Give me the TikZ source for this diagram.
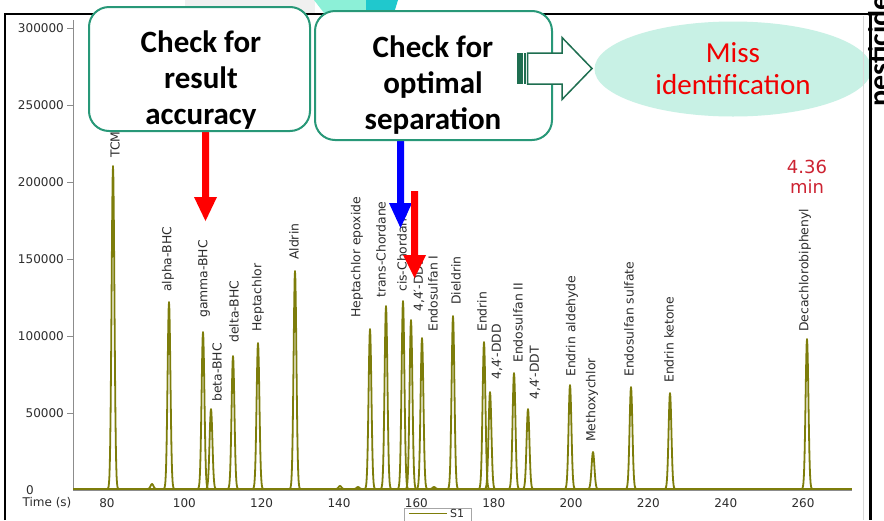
\documentclass[tikz,border=0pt]{standalone}
\usepackage{fontspec}
\usetikzlibrary{shapes.geometric}
\newfontfamily\chartfont{DejaVu Sans}
\newfontfamily\calfont{Carlito}
\definecolor{olivepk}{RGB}{125,125,10}
\definecolor{boxteal}{RGB}{40,152,120}
\definecolor{arrgreen}{RGB}{30,110,80}
\definecolor{mintfill}{RGB}{200,241,229}
\definecolor{missred}{RGB}{240,0,0}
\definecolor{timered}{RGB}{205,35,50}
\definecolor{axisgray}{RGB}{140,140,140}
\definecolor{txtgray}{RGB}{45,45,45}
\definecolor{decomint}{RGB}{140,240,215}
\definecolor{decoteal}{RGB}{32,200,205}
\begin{document}
\begin{tikzpicture}[x=1pt,y=-1pt,
  peak/.style={olivepk, line width=1.8pt, line join=round},
  plbl/.style={font=\chartfont\fontsize{12.4}{14}\selectfont, text=txtgray, inner sep=0pt, rotate=90, anchor=west},
  tlbl/.style={font=\chartfont\fontsize{12}{14}\selectfont, text=txtgray, inner sep=0pt},
  checkbox/.style={draw=boxteal, line width=2pt, fill=white, rounded corners=20pt, inner sep=0pt},
  boxtext/.style={align=center, font=\calfont\bfseries\fontsize{31}{36}\selectfont, inner sep=0pt}]
\useasboundingbox (0,0) rectangle (884,520);
\clip (0,0) rectangle (884,520);
\fill[white] (0,0) rectangle (884,520);
% top decorations
\fill[black!6] (185,0) rectangle (315,13);
\fill[decomint] (314,0) -- (366,0) -- (366,13) -- (324,13) -- cycle;
\fill[decoteal] (366,0) -- (398,0) -- (394,13) -- (366,13) -- cycle;
% ellipse
\node[ellipse, fill=mintfill, minimum width=277pt, minimum height=95pt, inner sep=0pt,
  align=center, text=missred, font=\calfont\fontsize{29}{32}\selectfont] (miss) at (733,69) {Miss\\identification};
% frame
\draw[black, line width=2pt] (5,520) -- (5,14) -- (871,14);
\draw[black!15, line width=0.8pt] (863,16) -- (863,520);
\draw[black, line width=3pt] (870,14) -- (870,520);
% axes
\draw[axisgray, line width=0.8pt] (73,20) -- (73,490) -- (852,490);
\foreach \v/\yy in {300000/28,250000/105,200000/182,150000/259,100000/336,50000/413}{
  \draw[axisgray, line width=0.8pt] (67,\yy) -- (73,\yy);
  \node[tlbl, anchor=east] (yt\v) at (64,\yy) {\v};
}
\node[tlbl] (yt0) at (30,490) {0};
\node[tlbl] (tlab) at (47,503) {Time (s)};
\foreach \t in {80,100,...,260}{
  \node[tlbl] (xt\t) at ({107+(\t-80)*3.867},503) {\t};
}
% legend
\node[draw=black!35, line width=0.6pt, minimum width=67pt, minimum height=16pt, anchor=north west, inner sep=0pt] (leg) at (404,508) {};
\node[tlbl, anchor=west, font=\chartfont\fontsize{11}{12}\selectfont] (legs1) at (450,513.5) {S1};
\draw[olivepk, line width=1pt] (409,513.5) -- ([xshift=-3pt]legs1.west);
% baseline signal
\draw[olivepk, line width=1.1pt] (73,489) -- (852,489);
\foreach \px/\pt in {113/166,169/302,203/332,211/409,233/356,258/343,295/271,370/329,386/306,403/301,411/320,422/338,453/316,484/342,490/392,514/373,528/409,570/385,593/452,631/387,670/393,807/339,152/484,340/486,358/487,434/487}{
  \draw[peak] plot[domain=\px-6:\px+6, samples=31] (\x,{489-(489-\pt)*exp(-((\x-\px)^2)/4)});
}
% peak labels
\foreach \lx/\ly/\txt [count=\i] in {115/158/TCMX, 168/292/alpha-BHC, 204/318/gamma-BHC, 217/402/beta-BHC,
  234/343/delta-BHC, 258/332/Heptachlor, 294/260/Aldrin, 357/318/Heptachlor epoxide, 381/298/trans-Chordane,
  402/292/cis-Chordane, 419/312/{4,4′-DDE}, 433/332/Endosulfan I, 456/305/Dieldrin, 482/332/Endrin,
  497/380/{4,4′-DDD}, 518/363/Endosulfan II, 535/400/{4,4′-DDT}, 572/377/Endrin aldehyde, 592/442/Methoxychlor,
  629/377/Endosulfan sulfate, 669/383/Endrin ketone, 805/332/Decachlorobiphenyl}{
  \node[plbl] (lab\i) at (\lx,\ly) {\txt};
}
\node[text=timered, font=\chartfont\fontsize{18}{20}\selectfont, align=center, inner sep=0pt] (rt) at (807,177) {4.36\\min};
% arrows
\coordinate (tipA) at (205.5,221);
\coordinate (tipB) at (400.5,228);
\coordinate (tipC) at (414.5,278);
\fill[red] (202,125) -- (209,125) -- (209,197) -- (217,197) -- (tipA) -- (194,197) -- (202,197) -- cycle;
\fill[blue] (397,135) -- (404,135) -- (404,203) -- (412,203) -- (tipB) -- (389,203) -- (397,203) -- cycle;
\fill[red] (411,191) -- (418,191) -- (418,255) -- (426,255) -- (tipC) -- (403,255) -- (411,255) -- cycle;
% boxes
\node[checkbox, minimum width=221pt, minimum height=124pt] (acc) at (199.5,69) {};
\node[boxtext] (acct) at (201,80) {Check for\\result\\accuracy};
\node[checkbox, minimum width=237pt, minimum height=129pt] (sep) at (433.5,75.5) {};
\node[boxtext] (sept) at (433,85) {Check for\\optimal\\separation};
% striped block arrow
\fill[arrgreen] (517,53) rectangle (522.5,84);
\fill[arrgreen] (524,53) rectangle (525.6,84);
\draw[arrgreen, fill=white, line width=1.5pt, line join=miter] (527.5,53) -- (562,53) -- (562,37.5) -- (592,68.5) -- (562,99.5) -- (562,84) -- (527.5,84) -- cycle;
% side text
\node[font=\calfont\bfseries\fontsize{30}{36}\selectfont, rotate=90, anchor=base west, inner sep=0pt] (pest) at (889,107) {pesticide};
\end{tikzpicture}
\end{document}
